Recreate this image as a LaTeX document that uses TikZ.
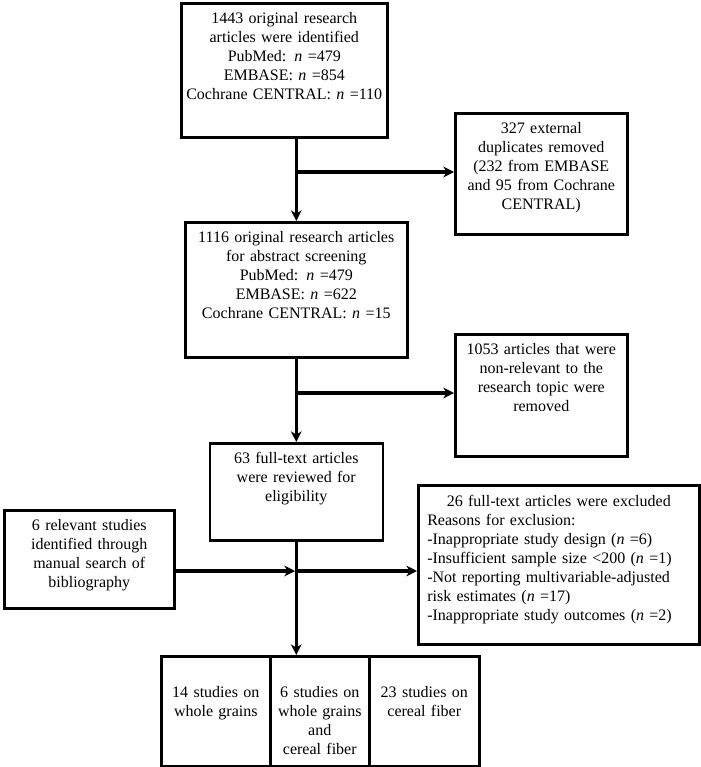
\documentclass[tikz,border=0pt]{standalone}
\usepackage{fontspec}
\setmainfont{Liberation Serif}
\usetikzlibrary{arrows.meta}
\begin{document}
\begin{tikzpicture}[x=0.75pt, y=-0.75pt,
        box/.style={draw, line width=1.9pt, anchor=north west, align=center,
            inner xsep=3pt, inner ysep=0pt, text height=15pt,
            font=\fontsize{12}{14.25}\selectfont},
        flow/.style={line width=2.4pt, -{Stealth[length=8pt, width=8pt, inset=2.5pt]}}]
        \useasboundingbox (0,0) rectangle (700,767);

        \node (ident) at (180,2) [box, text width=148.5pt, text depth=85.5pt]
            {1443 original research\\ articles were identified\\ PubMed: \textit{n} =479\\ EMBASE: \textit{n} =854\\ Cochrane CENTRAL: \textit{n} =110};
        \node (dup) at (454,112) [box, text width=123pt, text depth=75.75pt]
            {327 external\\ duplicates removed\\ (232 from EMBASE\\ and 95 from Cochrane\\ CENTRAL)};
        \node (screen) at (184,221) [box, text width=160.5pt, text depth=86.25pt]
            {1116 original research articles\\ for abstract screening\\ PubMed: \textit{n} =479\\ EMBASE: \textit{n} =622\\ Cochrane CENTRAL: \textit{n} =15};
        \node (nonrel) at (454,333) [box, text width=123pt, text depth=76.5pt]
            {1053 articles that were\\ non-relevant to the\\ research topic were\\ removed};
        \node (full) at (208.5,442) [box, text width=123.75pt, text depth=57.75pt]
            {63 full-text articles\\ were reviewed for\\ eligibility};
        \node (manual) at (3,509) [box, text width=121.5pt, text depth=58.5pt]
            {6 relevant studies\\ identified through\\ manual search of\\ bibliography};
        \node (excl) at (417,484) [box, align=left, inner xsep=6.75pt, text height=15.75pt, text width=197.25pt, text depth=103.5pt]
            {{\centering 26 full-text articles were excluded\par}Reasons for exclusion:\\ -Inappropriate study design (\textit{n} =6)\\ -Insufficient sample size <200 (\textit{n} =1)\\ -Not reporting multivariable-adjusted\\ risk estimates (\textit{n} =17)\\ -Inappropriate study outcomes (\textit{n} =2)};

        \node (wg) at (160,655) [box, text width=75.75pt, text height=30.75pt, text depth=51.75pt]
            {14 studies on\\ whole grains};
        \node (both) at (269,655) [box, text width=68.25pt, text height=30.75pt, text depth=51.75pt]
            {6 studies on\\ whole grains\\ and\\ cereal fiber};
        \node (cf) at (368,655) [box, text width=76.5pt, text height=30.75pt, text depth=51.75pt]
            {23 studies on\\ cereal fiber};

        \coordinate (dupj) at (295,172);
        \coordinate (nonj) at (295,393);
        \coordinate (exclj) at (295,571);

        \draw[flow] (screen.north |- ident.south) -- (screen.north);
        \draw[flow] (dupj) -- (dupj -| dup.west);
        \draw[flow] (screen) -- (full);
        \draw[flow] (nonj) -- (nonj -| nonrel.west);
        \draw[flow] (full) -- (full |- both.north);
        \draw[flow] (manual.east |- exclj) -- (exclj);
        \draw[flow] (exclj) -- (exclj -| excl.west);
      \end{tikzpicture}
\end{document}
